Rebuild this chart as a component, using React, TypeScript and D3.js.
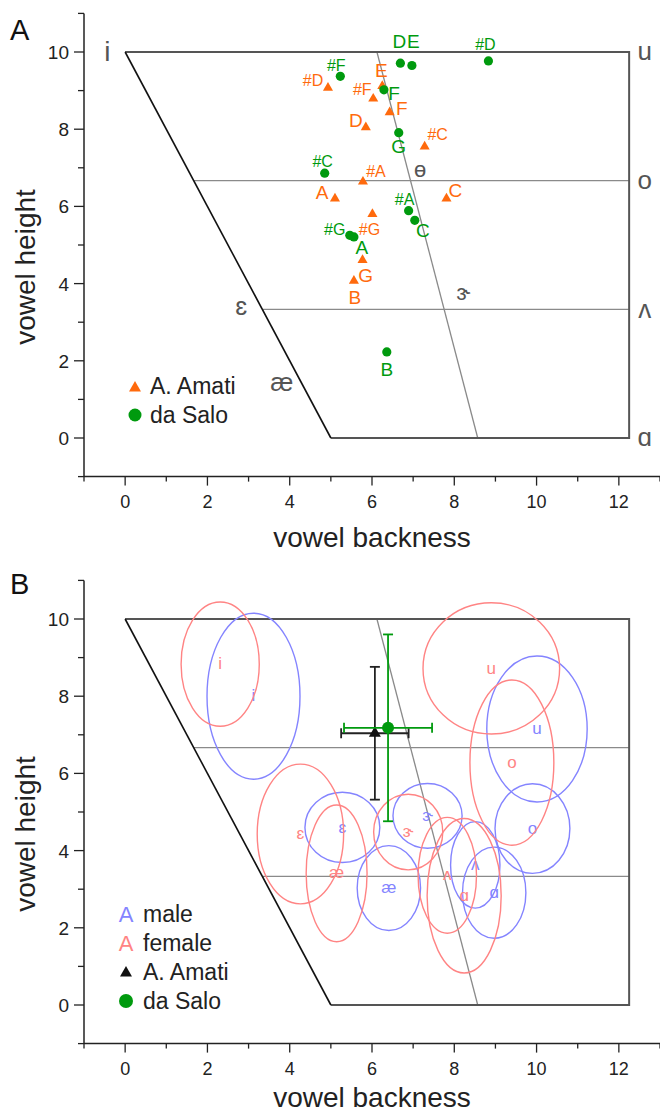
import React from 'react';
import * as d3 from 'd3';

// axis ticks
const xTicks = [0, 2, 4, 6, 8, 10, 12];
const xMinor = [-1, 1, 3, 5, 7, 9, 11, 13];
const yTicks = [0, 2, 4, 6, 8, 10];
const yMinor = [-1, 1, 3, 5, 7, 9, 11];

// panel A: bridge-hill formant positions (backness, height)
const amatiNotes = ['#D', 'E', '#F', 'F', 'D', '#C', '#A', 'A', 'C', '#G', 'G', 'B'];
const amatiX = [4.93, 6.25, 6.03, 6.43, 5.85, 7.28, 5.78, 5.10, 7.81, 6.01, 5.77, 5.56];
const amatiY = [9.07, 9.12, 8.79, 8.44, 8.05, 7.55, 6.64, 6.20, 6.20, 5.80, 4.61, 4.07];

const saloNotes = ['D', 'E', '#D', '#F', 'F', 'G', '#C', '#A', 'C', '#G', 'A', 'B'];
const saloX = [6.69, 6.97, 8.83, 5.23, 6.29, 6.65, 4.85, 6.89, 7.04, 5.46, 5.56, 6.36];
const saloY = [9.71, 9.65, 9.77, 9.37, 9.02, 7.91, 6.86, 5.89, 5.64, 5.25, 5.21, 2.23];

// panel B: human vowel ellipses (mean and spread)
const vowels = ['i', 'u', 'o', 'ɛ', 'æ', 'ɝ', 'ʌ', 'ɑ'];
const maleCx = [3.12, 10.01, 9.90, 5.28, 6.41, 7.35, 8.51, 8.97];
const maleCy = [8.0, 7.15, 4.57, 4.60, 3.03, 4.90, 3.63, 2.91];
const maleRx = [1.13, 1.22, 0.91, 0.91, 0.77, 0.84, 0.60, 0.77];
const maleRy = [2.15, 1.89, 1.16, 0.91, 1.10, 0.84, 1.12, 1.18];
const femaleCx = [2.31, 8.90, 9.40, 4.26, 5.14, 6.88, 7.83, 8.24];
const femaleCy = [8.83, 8.72, 6.28, 4.43, 3.41, 4.48, 3.36, 2.83];
const femaleRx = [0.95, 1.66, 1.02, 1.05, 0.74, 0.84, 0.71, 0.90];
const femaleRy = [1.61, 1.70, 2.14, 1.81, 1.77, 0.98, 1.50, 2.0];

// violin means with standard deviation
const violinNames = ['A. Amati', 'da Salo'];
const violinX = [6.07, 6.39];
const violinY = [7.04, 7.18];
const violinSdX = [0.82, 1.07];
const violinSdY = [1.72, 2.42];

const ORANGE = '#ff6a0d';
const GREEN = '#009a0e';
const BLUE = '#8484ff';
const RED = '#ff8484';
const GRAY = '#555';
const FONT = 'Liberation Sans, Arial, sans-serif';

// label offsets (px) for panel A
const amatiOff: Record<string, [number, number]> = {
  '#D': [-15, -8], E: [-1, -16], '#F': [-11, -9], F: [12, -4], D: [-10, -7], '#C': [13, -12],
  '#A': [13, -10], A: [-13, -7], C: [9, -9], '#G': [-3, 15], G: [3, 15], B: [1, 16],
};
const saloOff: Record<string, [number, number]> = {
  D: [-1, -22], E: [1.5, -24], '#D': [-3, -17], '#F': [-4, -11], F: [10, 3], G: [0, 13],
  '#C': [-2, -12], '#A': [-4, -11], C: [8, 10], '#G': [-15, -6], A: [8, 10], B: [0, 17],
};

const xA = d3.scaleLinear().domain([-1, 13]).range([84, 660]);
const yA = d3.scaleLinear().domain([-1, 11]).range([476.6, 13.4]);
const xB = d3.scaleLinear().domain([-1, 13]).range([84, 660]);
const yB = d3.scaleLinear().domain([-1, 11]).range([1043.6, 580.4]);

type S = d3.ScaleLinear<number, number>;

function Axes({ x, y, titleDy }: { x: S; y: S; titleDy: number }) {
  const y0 = y(-1);
  const x0 = x(-1);
  return (
    <g fill="#222" fontFamily={FONT}>
      <line x1={x0} x2={660} y1={y0} y2={y0} stroke="#222" strokeWidth={1.5} />
      <line x1={x0} x2={x0} y1={y0} y2={y(11)} stroke="#222" strokeWidth={1.5} />
      {xTicks.map((t) => (
        <g key={'x' + t}>
          <line x1={x(t)} x2={x(t)} y1={y0} y2={y0 + 9} stroke="#222" strokeWidth={1.3} />
          <text x={x(t)} y={y0 + 31} fontSize={18} textAnchor="middle">{t}</text>
        </g>
      ))}
      {xMinor.map((t) => (
        <line key={'xm' + t} x1={x(t)} x2={x(t)} y1={y0} y2={y0 + 5} stroke="#222" strokeWidth={1.3} />
      ))}
      {yTicks.map((t) => (
        <g key={'y' + t}>
          <line x1={x0 - 10} x2={x0} y1={y(t)} y2={y(t)} stroke="#222" strokeWidth={1.3} />
          <text x={x0 - 15} y={y(t) + 7} fontSize={19} textAnchor="end">{t}</text>
        </g>
      ))}
      {yMinor.map((t) => (
        <line key={'ym' + t} x1={x0 - 6} x2={x0} y1={y(t)} y2={y(t)} stroke="#222" strokeWidth={1.3} />
      ))}
      <text x={372} y={y0 + titleDy} fontSize={28} textAnchor="middle">vowel backness</text>
      <text transform={`translate(35,${(y(0) + y(10)) / 2 + 22}) rotate(-90)`} fontSize={28} textAnchor="middle">
        vowel height
      </text>
    </g>
  );
}

function Quad({ x, y, midTop }: { x: S; y: S; midTop: number }) {
  const leftAt = (v: number) => (5 * (10 - v)) / 10;
  const outer = d3.line()([
    [x(0), y(10)], [x(12.25), y(10)], [x(12.25), y(0)], [x(5), y(0)],
  ]);
  return (
    <g fill="none">
      {[6.67, 3.33].map((v) => (
        <line key={v} x1={x(leftAt(v))} x2={x(12.25)} y1={y(v)} y2={y(v)} stroke="#8a8a8a" strokeWidth={1.3} />
      ))}
      <line x1={x(midTop)} y1={y(10)} x2={x(8.57)} y2={y(0)} stroke="#8a8a8a" strokeWidth={1.3} />
      <path d={outer || ''} stroke={GRAY} strokeWidth={2} />
      <line x1={x(0)} y1={y(10)} x2={x(5)} y2={y(0)} stroke="#111" strokeWidth={1.6} />
    </g>
  );
}

const tri = d3.symbol(d3.symbolTriangle, 44)();
const triBig = d3.symbol(d3.symbolTriangle, 62)();

function PanelA() {
  const ipa: [string, number, number, number][] = [
    ['i', -0.43, 10, 28], ['u', 12.63, 10, 26], ['o', 12.63, 6.67, 26], ['ʌ', 12.63, 3.33, 26],
    ['ɑ', 12.63, 0, 26], ['ɛ', 2.82, 3.4, 26], ['æ', 3.81, 1.43, 26], ['ɵ', 7.17, 6.94, 22], ['ɝ', 8.22, 3.76, 22],
  ];
  return (
    <g>
      <Quad x={xA} y={yA} midTop={6.12} />
      <Axes x={xA} y={yA} titleDy={70} />
      {ipa.map(([t, vx, vy, fs]) => (
        <text key={t} x={xA(vx)} y={yA(vy)} dy="0.32em" fontSize={fs} fill={GRAY} fontFamily={FONT} textAnchor="middle">{t}</text>
      ))}
      {amatiNotes.map((n, i) => (
        <g key={'am' + n}>
          <path d={tri || ''} transform={`translate(${xA(amatiX[i])},${yA(amatiY[i])})`} fill={ORANGE} />
          <text x={xA(amatiX[i]) + amatiOff[n][0]} y={yA(amatiY[i]) + amatiOff[n][1]} dy="0.36em"
            fontSize={n.length > 1 ? 16 : 19} fill={ORANGE} fontFamily={FONT} textAnchor="middle">{n}</text>
        </g>
      ))}
      {saloNotes.map((n, i) => (
        <g key={'sa' + n}>
          <circle cx={xA(saloX[i])} cy={yA(saloY[i])} r={4.6} fill={GREEN} />
          <text x={xA(saloX[i]) + saloOff[n][0]} y={yA(saloY[i]) + saloOff[n][1]} dy="0.36em"
            fontSize={n.length > 1 ? 16 : 19} fill={GREEN} fontFamily={FONT} textAnchor="middle">{n}</text>
        </g>
      ))}
      <g fontFamily={FONT} fontSize={23} fill="#222">
        <path d={triBig || ''} transform="translate(135,388)" fill={ORANGE} />
        <text x={150} y={394}>{violinNames[0]}</text>
        <circle cx={135} cy={415} r={6.5} fill={GREEN} />
        <text x={150} y={423}>{violinNames[1]}</text>
      </g>
      <text x={10} y={40} fontSize={29} fontFamily={FONT} fill="#111">A</text>
    </g>
  );
}

function PanelB() {
  const sets = [
    { c: BLUE, cx: maleCx, cy: maleCy, rx: maleRx, ry: maleRy },
    { c: RED, cx: femaleCx, cy: femaleCy, rx: femaleRx, ry: femaleRy },
  ];
  const cols = ['#222', GREEN];
  const cap = 5;
  return (
    <g>
      <Quad x={xB} y={yB} midTop={6.12} />
      <Axes x={xB} y={yB} titleDy={63} />
      {sets.map((s, k) => (
        <g key={k}>
          {vowels.map((v, i) => (
            <g key={v}>
              <ellipse cx={xB(s.cx[i])} cy={yB(s.cy[i])} rx={xB(s.cx[i] + s.rx[i]) - xB(s.cx[i])}
                ry={yB(s.cy[i]) - yB(s.cy[i] + s.ry[i])} fill="none" stroke={s.c} strokeWidth={1.4} />
              <text x={xB(s.cx[i])} y={yB(s.cy[i])} dy="0.3em" fontSize={17} fill={s.c} fontFamily={FONT} textAnchor="middle">{v}</text>
            </g>
          ))}
        </g>
      ))}
      {violinNames.map((n, i) => {
        const cx = xB(violinX[i]);
        const cy = yB(violinY[i]);
        const l = xB(violinX[i] - violinSdX[i]);
        const r = xB(violinX[i] + violinSdX[i]);
        const t = yB(violinY[i] + violinSdY[i]);
        const b = yB(violinY[i] - violinSdY[i]);
        return (
          <g key={n} stroke={cols[i]} strokeWidth={1.8} fill="none">
            <line x1={cx} x2={cx} y1={t} y2={b} />
            <line x1={cx - cap} x2={cx + cap} y1={t} y2={t} />
            <line x1={cx - cap} x2={cx + cap} y1={b} y2={b} />
            <line x1={l} x2={r} y1={cy} y2={cy} />
            <line x1={l} x2={l} y1={cy - cap} y2={cy + cap} />
            <line x1={r} x2={r} y1={cy - cap} y2={cy + cap} />
            {i === 0 ? (
              <path d={triBig || ''} transform={`translate(${cx},${cy})`} fill="#111" stroke="none" />
            ) : (
              <circle cx={cx} cy={cy} r={6} fill={GREEN} stroke="none" />
            )}
          </g>
        );
      })}
      <g fontFamily={FONT} fontSize={23} fill="#222">
        <text x={126} y={914} dy="0.35em" fontSize={22} fill={BLUE} textAnchor="middle">A</text>
        <text x={143} y={914} dy="0.35em">male</text>
        <text x={126} y={943} dy="0.35em" fontSize={22} fill={RED} textAnchor="middle">A</text>
        <text x={143} y={943} dy="0.35em">female</text>
        <path d={triBig || ''} transform="translate(126,973)" fill="#111" />
        <text x={143} y={972} dy="0.35em">{violinNames[0]}</text>
        <circle cx={126} cy={1001} r={7} fill={GREEN} />
        <text x={143} y={1001} dy="0.35em">{violinNames[1]}</text>
      </g>
      <text x={10} y={594} fontSize={29} fontFamily={FONT} fill="#111">B</text>
    </g>
  );
}

export default function App() {
  return (
    <svg width={660} height={1115} style={{ position: 'absolute', left: 0, top: 0, background: '#fff' }}>
      <PanelA />
      <PanelB />
    </svg>
  );
}
